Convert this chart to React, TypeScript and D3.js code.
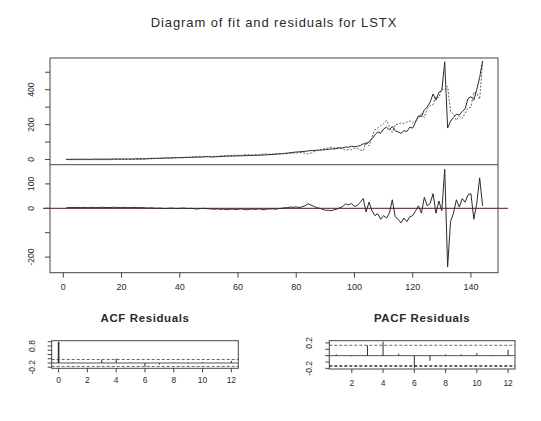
import React from "react";
import * as d3 from "d3";

// LSTX series: observed values, fitted values and model residuals (t = 1..144)
const actual: number[] = [
  1, 1, 1, 2, 1, 1, 2, 1, 1, 2,
  2, 2, 2, 2, 2, 2, 3, 3, 3, 3,
  3, 3, 3, 3, 4, 4, 4, 4, 5, 6,
  6, 7, 7, 8, 8, 9, 9, 10, 10, 11,
  11, 12, 12, 13, 13, 14, 14, 15, 16, 16,
  14, 15, 16, 17, 18, 19, 19, 20, 20, 21,
  21, 22, 22, 23, 23, 24, 24, 25, 26, 27,
  28, 29, 30, 32, 33, 35, 37, 39, 41, 43,
  44, 45, 47, 49, 51, 52, 53, 54, 55, 56,
  58, 61, 60, 64, 67, 66, 72, 70, 76, 73,
  76, 80, 90, 88, 102, 118, 140, 158, 150, 175,
  185, 170, 190, 165, 158, 150, 165, 160, 185, 180,
  215, 250, 245, 285, 300, 330, 375, 340, 385, 395,
  560, 180, 220, 240, 260, 255, 275, 290, 350, 360,
  340, 400, 470, 565,
];

const fitted: number[] = [
  0, -1, -1, -1, -1, -1, -1, -1, -1, -1,
  -1, -1, -1, -1, -1, -1, 0, 0, 0, 0,
  0, 0, 0, 0, 1, 2, 1, 2, 4, 4,
  5, 7, 6, 8, 9, 9, 8, 10, 11, 11,
  10, 12, 13, 13, 15, 17, 15, 15, 17, 18,
  17, 19, 18, 22, 21, 25, 23, 23, 25, 25,
  23, 27, 28, 27, 26, 29, 26, 29, 32, 30,
  31, 31, 34, 33, 33, 33, 34, 34, 37, 37,
  41, 39, 37, 31, 37, 44, 50, 54, 59, 64,
  66, 71, 66, 67, 65, 58, 54, 56, 56, 65,
  64, 55, 50, 103, 77, 128, 170, 180, 195, 205,
  225, 190, 155, 200, 203, 210, 205, 215, 220, 210,
  225, 240, 265, 240, 290, 310, 315, 360, 355, 405,
  400, 420, 275, 260, 225, 250, 235, 265, 295, 300,
  385, 380, 345, 555,
];

const residuals: number[] = [
  2, 3, 3, 4, 3, 3, 4, 3, 3, 4,
  3, 3, 4, 4, 3, 3, 4, 4, 3, 3,
  4, 3, 3, 4, 3, 2, 3, 2, 1, 2,
  1, 0, 1, 0, -1, 0, 1, 0, -1, 0,
  1, 0, -1, 0, -2, -3, -1, 0, -1, -2,
  -3, -4, -2, -5, -3, -6, -4, -3, -5, -4,
  -2, -5, -6, -4, -3, -5, -2, -4, -6, -3,
  -3, -2, -4, -1, 0, 2, 3, 5, 4, 6,
  3, 6, 10, 18, 14, 8, 3, 0, -4, -8,
  -8, -10, -6, -3, 2, 8, 18, 14, 20, 8,
  12, 25, 40, -15, 25, -10, -30, -22, -45, -30,
  -40, -20, 35, -35, -45, -60, -40, -55, -35, -30,
  -10, 10, -20, 45, 10, 20, 60, -20, 30, -10,
  160, -240, -55, -20, 35, 5, 40, 25, 55, 60,
  -45, 20, 125, 10,
];

// Autocorrelations of the residuals
const acfLags: number[] = [0, 1, 2, 3, 4, 5, 6, 7, 8, 9, 10, 11, 12];
const acfValues: number[] = [1, 0.02, -0.01, 0.15, 0.21, 0.03, -0.18, -0.07, 0.02, 0.02, 0.04, 0.01, 0.1];
const pacfLags: number[] = [1, 2, 3, 4, 5, 6, 7, 8, 9, 10, 11, 12];
const pacfValues: number[] = [0.02, -0.01, 0.16, 0.22, 0.03, -0.19, -0.08, 0.02, 0.02, 0.04, 0.01, 0.09];
const confLimit = 0.163;

// Axis ticks and labels
const timeTicks: number[] = [0, 20, 40, 60, 80, 100, 120, 140];
const fitTicks: number[] = [0, 100, 200, 300, 400, 500];
const fitLabels: Record<number, string> = { 0: "0", 200: "200", 400: "400" };
const residTicks: number[] = [-200, -100, 0, 100];
const residLabels: Record<number, string> = { "-200": "-200", 0: "0", 100: "100" };
const acfXTicks: number[] = [0, 2, 4, 6, 8, 10, 12];
const acfYTicks: number[] = [-0.2, 0, 0.2, 0.4, 0.6, 0.8, 1.0];
const acfYLabels: Record<string, string> = { "-0.2": "-0.2", "0.8": "0.8" };
const pacfXTicks: number[] = [2, 4, 6, 8, 10, 12];
const pacfYTicks: number[] = [-0.2, -0.1, 0, 0.1, 0.2];
const pacfYLabels: Record<string, string> = { "-0.2": "-0.2", "0.2": "0.2" };

const title = "Diagram of fit and residuals for LSTX";
const font = "'Liberation Sans', Arial, Helvetica, sans-serif";
const ink = "#2a2a2a";
const boxInk = "#444";

export default function App() {
  const W = 541;
  const H = 421;
  const t = d3.range(1, actual.length + 1);

  // main panels
  const L = 50, R = 498, T = 58, MID = 164.7, B = 272.7;
  const x = d3.scaleLinear().domain([-4.57, 149.3]).range([L, R]);
  const yFit = d3.scaleLinear().domain([-29.8, 581.6]).range([MID, T]);
  const yRes = d3.scaleLinear().domain([-264, 178.7]).range([B, MID]);

  const lineFit = (vals: number[]) =>
    d3.line<number>().x((_, i) => x(t[i])).y((v) => yFit(v))(vals) || "";
  const lineRes =
    d3.line<number>().x((_, i) => x(t[i])).y((v) => yRes(v))(residuals) || "";

  // ACF panel
  const aL = 51.7, aR = 238.3, aT = 340.7, aB = 368.3;
  const ax = d3.scaleLinear().domain([-0.48, 12.48]).range([aL, aR]);
  const ay = d3.scaleLinear().domain([-0.25, 1.05]).range([aB, aT]);

  // PACF panel
  const pL = 329.3, pR = 515, pT = 340.7, pB = 369;
  const px = d3.scaleLinear().domain([0.56, 12.44]).range([pL, pR]);
  const py = d3.scaleLinear().domain([-0.21, 0.235]).range([pB, pT]);

  const rotLabel = (xx: number, yy: number, s: string, key: string) => (
    <text
      key={key}
      transform={`translate(${xx},${yy}) rotate(-90)`}
      textAnchor="middle"
      fontSize={8.5}
      fill={ink}
    >
      {s}
    </text>
  );

  return (
    <svg
      width={W}
      height={H}
      viewBox={`0 0 ${W} ${H}`}
      style={{ position: "absolute", left: 0, top: 0, background: "#fff" }}
      fontFamily={font}
    >
      <rect width={W} height={H} fill="#fff" />
      <text x={274} y={27} textAnchor="middle" fontSize={13} letterSpacing={0.9} fill={ink}>
        {title}
      </text>

      {/* fit panel */}
      <path d={lineFit(fitted)} fill="none" stroke="#666" strokeWidth={1} strokeDasharray="2,1.5" />
      <path d={lineFit(actual)} fill="none" stroke={ink} strokeWidth={1} />
      {fitTicks.map((v) => (
        <line key={"ft" + v} x1={L - 5} x2={L} y1={yFit(v)} y2={yFit(v)} stroke={boxInk} />
      ))}
      {fitTicks.filter((v) => fitLabels[v]).map((v) => rotLabel(33.5, yFit(v), fitLabels[v], "fl" + v))}

      {/* residual panel */}
      <line x1={43} x2={508} y1={yRes(0)} y2={yRes(0)} stroke="#8e3b3b" strokeWidth={1.2} />
      <path d={lineRes} fill="none" stroke={ink} strokeWidth={1} />
      {residTicks.map((v) => (
        <line key={"rt" + v} x1={L - 5} x2={L} y1={yRes(v)} y2={yRes(v)} stroke={boxInk} />
      ))}
      {residTicks.filter((v) => residLabels[v]).map((v) => rotLabel(33.5, yRes(v), residLabels[v], "rl" + v))}

      <rect x={L} y={T} width={R - L} height={B - T} fill="none" stroke={boxInk} strokeWidth={1} />
      <line x1={L} x2={R} y1={MID} y2={MID} stroke={boxInk} strokeWidth={1} />

      {timeTicks.map((v) => (
        <g key={"tt" + v}>
          <line x1={x(v)} x2={x(v)} y1={B} y2={B + 5} stroke={boxInk} />
          <text x={x(v)} y={290} textAnchor="middle" fontSize={9} fill={ink}>
            {v}
          </text>
        </g>
      ))}

      {/* ACF of residuals */}
      <text x={(aL + aR) / 2} y={322} textAnchor="middle" fontSize={11.5} letterSpacing={0.6} fontWeight="bold" fill={ink}>
        ACF Residuals
      </text>
      <line x1={aL} x2={aR} y1={ay(0)} y2={ay(0)} stroke={ink} strokeWidth={0.8} />
      <line x1={aL} x2={aR} y1={ay(confLimit)} y2={ay(confLimit)} stroke="#666" strokeDasharray="3,2" />
      <line x1={aL} x2={aR} y1={ay(-confLimit)} y2={ay(-confLimit)} stroke="#666" strokeDasharray="3,2" />
      {acfLags.map((lag, i) => (
        <line
          key={"acf" + lag}
          x1={ax(lag)}
          x2={ax(lag)}
          y1={ay(0)}
          y2={ay(acfValues[i])}
          stroke={ink}
          strokeWidth={lag === 0 ? 1.6 : 1}
        />
      ))}
      <rect x={aL} y={aT} width={aR - aL} height={aB - aT} fill="none" stroke={boxInk} />
      {acfXTicks.map((v) => (
        <g key={"axt" + v}>
          <line x1={ax(v)} x2={ax(v)} y1={aB} y2={aB + 4} stroke={boxInk} />
          <text x={ax(v)} y={382.5} textAnchor="middle" fontSize={8.5} fill={ink}>
            {v}
          </text>
        </g>
      ))}
      {acfYTicks.map((v) => (
        <line key={"ayt" + v} x1={aL - 4} x2={aL} y1={ay(v)} y2={ay(v)} stroke={boxInk} />
      ))}
      {acfYTicks.filter((v) => acfYLabels[String(v)]).map((v) => rotLabel(34.5, ay(v), acfYLabels[String(v)], "ayl" + v))}

      {/* PACF of residuals */}
      <text x={(pL + pR) / 2} y={322} textAnchor="middle" fontSize={11.5} letterSpacing={0.6} fontWeight="bold" fill={ink}>
        PACF Residuals
      </text>
      <line x1={pL} x2={pR} y1={py(0)} y2={py(0)} stroke={ink} strokeWidth={0.8} />
      <line x1={pL} x2={pR} y1={py(confLimit)} y2={py(confLimit)} stroke="#666" strokeDasharray="3,2" />
      <line x1={pL} x2={pR} y1={py(-confLimit)} y2={py(-confLimit)} stroke="#333" strokeDasharray="3,2" strokeWidth={1.3} />
      {pacfLags.map((lag, i) => (
        <line
          key={"pacf" + lag}
          x1={px(lag)}
          x2={px(lag)}
          y1={py(0)}
          y2={py(pacfValues[i])}
          stroke={ink}
          strokeWidth={1}
        />
      ))}
      <rect x={pL} y={pT} width={pR - pL} height={pB - pT} fill="none" stroke={boxInk} />
      {pacfXTicks.map((v) => (
        <g key={"pxt" + v}>
          <line x1={px(v)} x2={px(v)} y1={pB} y2={pB + 4} stroke={boxInk} />
          <text x={px(v)} y={386} textAnchor="middle" fontSize={8.5} fill={ink}>
            {v}
          </text>
        </g>
      ))}
      {pacfYTicks.map((v) => (
        <line key={"pyt" + v} x1={pL - 4} x2={pL} y1={py(v)} y2={py(v)} stroke={boxInk} />
      ))}
      {pacfYTicks.filter((v) => pacfYLabels[String(v)]).map((v) => rotLabel(312, py(v), pacfYLabels[String(v)], "pyl" + v))}
    </svg>
  );
}
